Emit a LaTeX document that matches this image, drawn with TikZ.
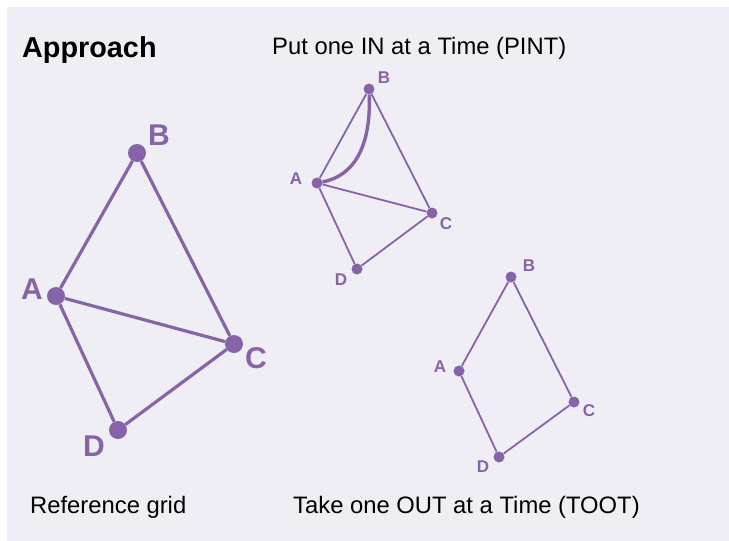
\documentclass[tikz,border=0pt]{standalone}
\usepackage{fontspec}
\setmainfont{Liberation Sans}
\definecolor{grape}{HTML}{8763A8}
\definecolor{lilac}{HTML}{F0EEF5}

\begin{document}
\begin{tikzpicture}[x=1pt, y=-1pt, grape,
	bigdot/.style={circle, fill=grape, inner sep=0pt, minimum size=18pt},
	dot/.style={circle, fill=grape, inner sep=0pt, minimum size=11pt},
	biglbl/.style={font=\fontsize{30}{33}\selectfont\bfseries, inner sep=0pt},
	lbl/.style={font=\fontsize{17}{19}\selectfont\bfseries, inner sep=0pt},
	caption/.style={black, font=\fontsize{23.8}{27}\selectfont, inner sep=0pt, anchor=base west},
	bigedge/.style={line width=3.2pt},
	edge/.style={line width=1.8pt}]
	\useasboundingbox (0,0) rectangle (729,541);
	\fill[lilac] (7,7) rectangle (729,541);

	\node[caption, font=\fontsize{28.8}{32}\selectfont\bfseries] (title) at (22,57) {Approach};
	\node[caption] (pint) at (272,54) {Put one IN at a Time (PINT)};
	\node[caption] (ref) at (30,513) {Reference grid};
	\node[caption] (toot) at (293,513) {Take one OUT at a Time (TOOT)};

	% reference grid
	\node[bigdot] (rA) at (56,296) {};
	\node[bigdot] (rB) at (137,153) {};
	\node[bigdot] (rC) at (234,344) {};
	\node[bigdot] (rD) at (118,430) {};
	\node[biglbl] (rAl) at (32,289) {A};
	\node[biglbl] (rBl) at (159,135) {B};
	\node[biglbl] (rCl) at (256,358) {C};
	\node[biglbl] (rDl) at (94,446) {D};

	\draw[bigedge] (rA) -- (rB);
	\draw[bigedge] (rB) -- (rC);
	\draw[bigedge] (rA) -- (rC);
	\draw[bigedge] (rA) -- (rD);
	\draw[bigedge] (rD) -- (rC);

	% PINT
	\node[dot] (pA) at (317,183) {};
	\node[dot] (pB) at (369,89) {};
	\node[dot] (pC) at (432,213) {};
	\node[dot] (pD) at (357,269) {};
	\node[lbl] (pAl) at (296,179) {A};
	\node[lbl] (pBl) at (384,78) {B};
	\node[lbl] (pCl) at (446,224) {C};
	\node[lbl] (pDl) at (341,280) {D};

	\draw[edge] (pA) -- (pB);
	\draw[edge] (pB) -- (pC);
	\draw[edge] (pA) -- (pC);
	\draw[edge] (pA) -- (pD);
	\draw[edge] (pD) -- (pC);
	\draw[line width=3.4pt] (pA) .. controls (358,175) and (371,140) .. (pB);

	% TOOT
	\node[dot] (tA) at (459,371) {};
	\node[dot] (tB) at (511,277) {};
	\node[dot] (tC) at (574,402) {};
	\node[dot] (tD) at (499,457) {};
	\node[lbl] (tAl) at (440,367) {A};
	\node[lbl] (tBl) at (529,266) {B};
	\node[lbl] (tCl) at (589,411) {C};
	\node[lbl] (tDl) at (483,467) {D};

	\draw[edge] (tA) -- (tB);
	\draw[edge] (tB) -- (tC);
	\draw[edge] (tC) -- (tD);
	\draw[edge] (tD) -- (tA);
\end{tikzpicture}
\end{document}
